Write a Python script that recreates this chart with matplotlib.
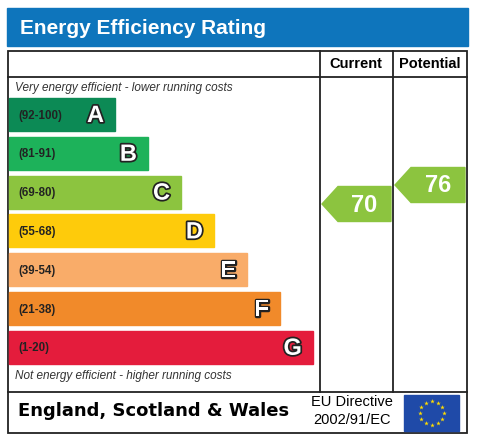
import matplotlib
matplotlib.use("Agg")
import matplotlib.pyplot as plt
from matplotlib.patches import Rectangle, Polygon
import matplotlib.patheffects as pe
import numpy as np

letters = ["A", "B", "C", "D", "E", "F", "G"]
ranges = ["(92-100)", "(81-91)", "(69-80)", "(55-68)", "(39-54)", "(21-38)", "(1-20)"]
colors = ["#0c8a55", "#1db25a", "#8cc43f", "#fecb0b", "#f9ac69", "#f18a2a", "#e41c3c"]
current = 70
potential = 76

W, H = 484, 437
fig = plt.figure(figsize=(W/100, H/100), dpi=100)
ax = fig.add_axes([0, 0, 1, 1])
ax.set_xlim(0, W); ax.set_ylim(H, 0); ax.axis("off")

# title bar
ax.add_patch(Rectangle((7, 8), 461, 38, color="#0e75bc"))
ax.text(20, 28, "Energy Efficiency Rating", color="white", fontsize=15, fontweight="bold",
        va="center", family="Liberation Sans")

lw = 1.3
ax.add_patch(Rectangle((8, 51), 459, 382, fill=False, lw=lw, ec="#222"))
for x in (320, 393):
    ax.plot([x, x], [51, 392], color="#222", lw=lw)
ax.plot([8, 467], [77, 77], color="#222", lw=lw)
ax.plot([8, 467], [392, 392], color="#222", lw=lw)
ax.text(356, 64, "Current", ha="center", va="center", fontsize=10.5, fontweight="bold", family="Liberation Sans")
ax.text(430, 64, "Potential", ha="center", va="center", fontsize=10.5, fontweight="bold", family="Liberation Sans")
ax.text(15, 88, "Very energy efficient - lower running costs", fontsize=8.5, style="italic",
        va="center", color="#333", family="Liberation Sans")
ax.text(15, 376, "Not energy efficient - higher running costs", fontsize=8.5, style="italic",
        va="center", color="#333", family="Liberation Sans")

top0, step, bh = 98, 38.8, 33
for i, (L, r, c) in enumerate(zip(letters, ranges, colors)):
    y = top0 + i*step
    right = 115 + i*33
    ax.add_patch(Rectangle((9, y), right-9, bh, color=c))
    ax.text(18, y+bh/2+1, r, fontsize=8.3, fontweight="bold", va="center", color="#222", family="Liberation Sans")
    ax.text(right-11, y+bh/2+1, L, fontsize=17, fontweight="bold", va="center", ha="right", color="white",
            family="Liberation Sans", path_effects=[pe.withStroke(linewidth=2.5, foreground="#222")])

def band_index(v):
    lows = [92, 81, 69, 55, 39, 21, 1]
    for i, lo in enumerate(lows):
        if v >= lo:
            return i
    return 6

def arrow(v, x0, x1, yc):
    c = colors[band_index(v)]
    h = 35
    pts = [(x0, yc), (x0+16, yc-h/2), (x1, yc-h/2), (x1, yc+h/2), (x0+16, yc+h/2)]
    ax.add_patch(Polygon(pts, closed=True, color=c))
    ax.text((x0+16+x1)/2, yc+1, str(v), fontsize=17, fontweight="bold", color="white",
            ha="center", va="center", family="Liberation Sans")

arrow(current, 322, 391, 204)
arrow(potential, 395, 465, 185)

ax.text(18, 411, "England, Scotland & Wales", fontsize=13, fontweight="bold", va="center",
        family="DejaVu Sans")
ax.text(352, 402, "EU Directive", fontsize=10.5, ha="center", va="center", family="Liberation Sans")
ax.text(352, 420, "2002/91/EC", fontsize=10.5, ha="center", va="center", family="Liberation Sans")
ax.add_patch(Rectangle((404, 395), 55, 36, color="#1f4aa8"))
ang = np.linspace(0, 2*np.pi, 12, endpoint=False)
ax.scatter(431.5 + 12*np.cos(ang), 413 + 12*np.sin(ang), marker="*", s=12, color="#ffdd00", lw=0)

fig.savefig("out.png", dpi=100, facecolor="white")
